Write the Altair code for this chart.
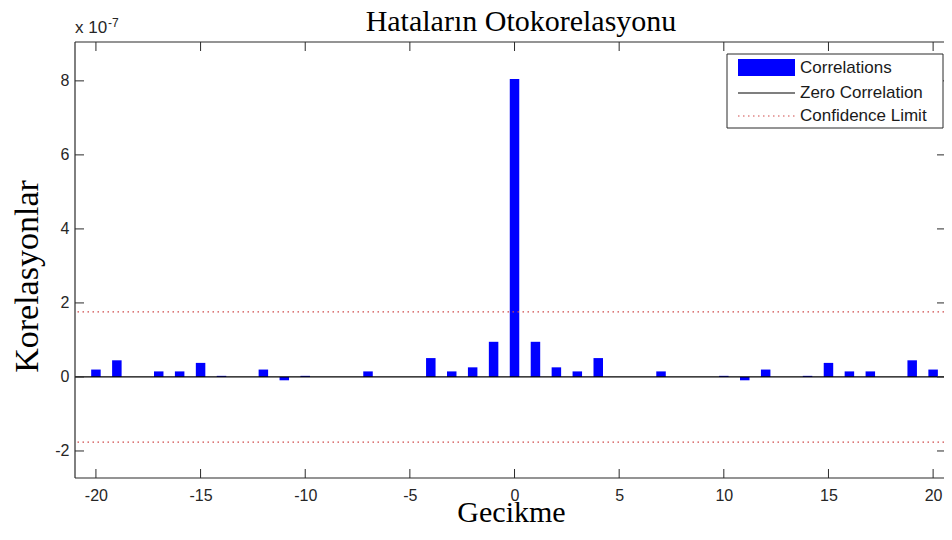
import altair as alt
import pandas as pd

# Data (values in units of 1e-7)
lags = list(range(-20, 21))
left_side = [0.20, 0.45, 0.0, 0.15, 0.15, 0.38, 0.03, 0.0, 0.20, -0.09,
             0.03, 0.0, 0.0, 0.15, 0.0, 0.0, 0.51, 0.15, 0.26, 0.95]
center_value = [8.05]
correlations = left_side + center_value + left_side[::-1]
confidence = [1.76, -1.76]
x_ticks = [-20, -15, -10, -5, 0, 5, 10, 15, 20]
y_ticks = [-2, 0, 2, 4, 6, 8]
legend_labels = ["Correlations", "Zero Correlation", "Confidence Limit"]

W, H = 869, 436
AX = "#2b2b2b"
SANS = "Liberation Sans"
SERIF = "Liberation Serif"

xs = alt.Scale(domain=[-21, 20.52], nice=False, zero=False, padding=0)
ys = alt.Scale(domain=[-2.73, 9.05], nice=False, zero=False, padding=0)

x_axis = alt.Axis(values=x_ticks, title="Gecikme", labelExpr="'' + datum.value",
                  titleFont=SERIF, titleFontSize=30, titleFontWeight="normal",
                  titleColor="black", titleX=436, titleY=43,
                  titleBaseline="alphabetic", titleAnchor="start", titleAlign="center",
                  labelPadding=9, labelBaseline="top")
y_axis = alt.Axis(values=y_ticks, title="Korelasyonlar", labelExpr="'' + datum.value",
                  titleFont=SERIF, titleFontSize=34, titleFontWeight="normal",
                  titleColor="black", titleX=-38, titleY=234, titleAngle=270,
                  titleBaseline="alphabetic", titleAnchor="start", titleAlign="center",
                  labelPadding=6)

bars_df = pd.DataFrame({"lag": lags, "corr": correlations})
conf_df = pd.DataFrame({"c": confidence})
zero_df = pd.DataFrame({"z": [0]})
xt_df = pd.DataFrame({"t": x_ticks})
yt_df = pd.DataFrame({"t": y_ticks})
one = pd.DataFrame({"a": [0]})

bars = alt.Chart(bars_df).mark_bar(size=9.5, color="#0000ff").encode(
    x=alt.X("lag:Q", scale=xs, axis=x_axis),
    y=alt.Y("corr:Q", scale=ys, axis=y_axis),
)

conf = alt.Chart(conf_df).mark_rule(color="#d04a4a", strokeDash=[1.5, 3.5], strokeWidth=1.2).encode(
    y=alt.Y("c:Q", scale=ys, axis=y_axis)
)
zero = alt.Chart(zero_df).mark_rule(color="black", strokeWidth=1.2).encode(
    y=alt.Y("z:Q", scale=ys, axis=y_axis)
)

TL = 9
tick_b = alt.Chart(xt_df).mark_rule(color=AX).encode(
    x=alt.X("t:Q", scale=xs, axis=x_axis), y=alt.value(H), y2=alt.value(H - TL))
tick_t = alt.Chart(xt_df).mark_rule(color=AX).encode(
    x=alt.X("t:Q", scale=xs, axis=x_axis), y=alt.value(0), y2=alt.value(TL))
tick_l = alt.Chart(yt_df).mark_rule(color=AX).encode(
    y=alt.Y("t:Q", scale=ys, axis=y_axis), x=alt.value(0), x2=alt.value(TL))
tick_r = alt.Chart(yt_df).mark_rule(color=AX).encode(
    y=alt.Y("t:Q", scale=ys, axis=y_axis), x=alt.value(W), x2=alt.value(W - 7))

# Axes frame (left, top, bottom; right edge lies beyond the visible area)
frame_l = alt.Chart(one).mark_rule(color=AX, strokeWidth=1.2).encode(
    x=alt.value(0), y=alt.value(0), y2=alt.value(H))
frame_t = alt.Chart(one).mark_rule(color=AX, strokeWidth=1.2).encode(
    x=alt.value(0), x2=alt.value(W), y=alt.value(0))
frame_b = alt.Chart(one).mark_rule(color=AX, strokeWidth=1.2).encode(
    x=alt.value(0), x2=alt.value(W), y=alt.value(H))

# Legend
lx0, lx1, ly0, ly1 = 652, 868, 12, 86
rows = [26, 51, 74]
legend_box = alt.Chart(one).mark_rect(fill="white", stroke=AX, strokeWidth=1).encode(
    x=alt.value(lx0), x2=alt.value(lx1), y=alt.value(ly0), y2=alt.value(ly1))
leg_rect = alt.Chart(one).mark_rect(color="#0000ff").encode(
    x=alt.value(663), x2=alt.value(720), y=alt.value(rows[0] - 9), y2=alt.value(rows[0] + 8))
leg_line = alt.Chart(one).mark_rule(color="black", strokeWidth=1.2).encode(
    x=alt.value(663), x2=alt.value(720), y=alt.value(rows[1]))
leg_dot = alt.Chart(one).mark_rule(color="#d04a4a", strokeDash=[1.5, 3.5], strokeWidth=1.2).encode(
    x=alt.value(663), x2=alt.value(720), y=alt.value(rows[2]))
leg_texts = [
    alt.Chart(one).mark_text(text=lab, font=SANS, fontSize=17, align="left",
                             baseline="middle", color="#1a1a1a").encode(
        x=alt.value(725), y=alt.value(r))
    for lab, r in zip(legend_labels, rows)
]

title = alt.Chart(one).mark_text(text="Hataların Otokorelasyonu", font=SERIF, fontSize=30,
                                 align="center", baseline="alphabetic", color="black").encode(
    x=alt.value(446), y=alt.value(-11))
exp_main = alt.Chart(one).mark_text(text="x 10", font=SANS, fontSize=17, align="left",
                                    baseline="alphabetic", color="#262626").encode(
    x=alt.value(0), y=alt.value(-9))
exp_sup = alt.Chart(one).mark_text(text="-7", font=SANS, fontSize=12, align="left",
                                   baseline="alphabetic", color="#262626").encode(
    x=alt.value(33), y=alt.value(-15))

chart = alt.layer(
    bars, conf, zero, tick_b, tick_t, tick_l, tick_r,
    frame_l, frame_t, frame_b,
    legend_box, leg_rect, leg_line, leg_dot, *leg_texts,
    title, exp_main, exp_sup,
).properties(
    width=W, height=H,
    padding={"left": 67, "top": 34, "right": 0, "bottom": 49},
    autosize=alt.AutoSizeParams(type="none"),
    background="white",
).configure_view(
    stroke=None
).configure_axis(
    grid=False, ticks=False, tickSize=0, domain=False,
    labelFont=SANS, labelFontSize=16, labelColor="#262626",
)

chart.save("out.html", embed_options={"renderer": "svg", "actions": False})
